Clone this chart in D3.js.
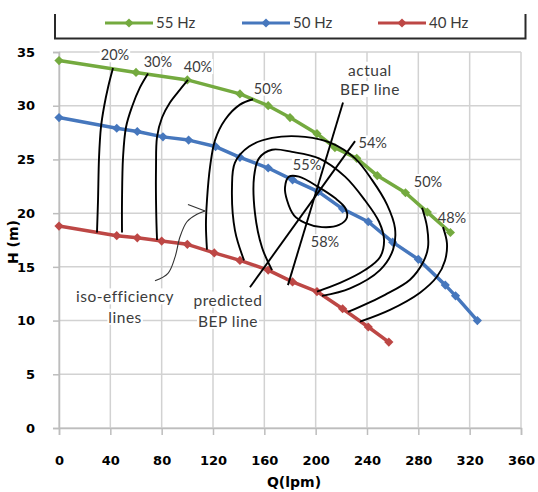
<!DOCTYPE html>
<html>
<head>
<meta charset="utf-8">
<script src="https://cdn.jsdelivr.net/npm/d3@7"></script>
<style>
  body { margin: 0; background: #fff; }
  svg { display: block; font-family: Lato, "Open Sans", sans-serif; }
</style>
</head>
<body>
<svg id="chart" width="538" height="492"></svg>
<script>
// axis ticks
var flowTicks = [0, 40, 80, 120, 160, 200, 240, 280, 320, 360]
var headTicks = [0, 5, 10, 15, 20, 25, 30, 35]

// pump curves, Q (lpm) / H (m)
var q55 = [0, 60, 100, 141, 163, 180, 201, 215, 232, 248, 270, 287, 305]
var h55 = [34.2, 33.1, 32.4, 31.1, 30.0, 28.9, 27.4, 26.1, 25.1, 23.5, 21.9, 20.1, 18.2]
var q50 = [0, 45, 61, 81, 101, 122, 141, 163, 182, 202, 221, 241, 260, 280, 301, 309, 326]
var h50 = [28.9, 27.9, 27.6, 27.1, 26.8, 26.2, 25.2, 24.2, 23.1, 22.0, 20.4, 19.2, 17.3, 15.7, 13.3, 12.3, 10.0]
var q40 = [0, 45, 61, 80, 100, 121, 141, 163, 182, 201, 221, 241, 257]
var h40 = [18.8, 17.9, 17.7, 17.4, 17.1, 16.3, 15.6, 14.7, 13.6, 12.7, 11.1, 9.4, 8.0]

// iso-efficiency lines [Q, H]
var iso20 = [[42.1,33.5],[38.2,31.7],[35.1,29.9],[32.7,28.0],[31.2,25.2],[30.4,21.2],[29.6,18.2]]
var iso30 = [[69.4,33.0],[63.1,31.7],[56.9,29.9],[52.2,28.0],[49.9,25.2],[49.1,21.2],[49.1,18.2]]
var iso40 = [[100.5,32.4],[94.3,31.5],[86.5,30.3],[80.3,28.9],[76.4,27.1],[75.6,24.3],[75.6,21.2],[76.4,17.5]]
var iso50a = [[151.2,30.6],[141.0,30.1],[129.4,28.7],[121.6,26.8],[117.7,24.3],[115.3,21.2],[114.5,18.9],[115.3,16.6]]
var iso54 = [[144.2,15.6],[137.1,18.4],[134.8,22.4],[137.1,24.7],[148.1,26.2],[166.0,27.0],[191.7,27.1],[212.7,26.5],
             [230.7,25.1],[243.9,23.1],[255.6,20.8],[261.8,18.6],[260.3,16.6],[250.1,14.7],[226.8,13.0],[204.9,12.3]]
var iso55 = [[166.0,14.7],[158.2,16.8],[152.7,20.0],[152.0,23.4],[155.8,25.1],[166.0,25.9],[181.6,25.7],[202.6,25.1],
             [222.9,23.4],[238.4,21.2],[249.4,19.2],[253.3,17.5],[250.1,15.9],[238.4,14.7],[219.0,13.5],[201.0,12.7]]
var iso58 = [[176.1,22.4],[179.2,23.4],[187.0,23.4],[202.6,22.4],[215.1,21.4],[222.9,20.5],[224.4,19.6],
             [218.2,18.9],[204.9,18.7],[191.7,19.1],[183.1,19.8],[177.7,21.2]]
var iso50b = [[282.9,20.5],[286.8,18.7],[287.5,16.8],[283.6,15.4],[273.5,13.8],[254.0,12.4],[225.2,10.8]]
var iso48 = [[299.2,18.7],[302.3,17.2],[300.8,15.6],[294.6,14.1],[281.3,12.6],[257.9,11.0],[234.5,9.9]]

// BEP lines
var actualBep = [[221.3,30.3],[178.4,13.3]]
var predictedBep = [[230.7,26.7],[148.8,13.1]]

// arrow pointing from the iso-efficiency label
var arrowCurve = [[74.8,13.7],[84.9,14.4],[90.4,15.9],[94.3,17.8],[99.7,19.2],[107.5,19.9],[113.8,20.2]]
var arrowBarb = [[100.5,20.8],[113.8,20.2]]

// annotations [text, Q, H]
var pctNotes = [
  ['20%', 43.6, 34.7], ['30%', 77.1, 34.1], ['40%', 108.3, 33.6], ['50%', 162.9, 31.6],
  ['54%', 244.5, 26.5], ['55%', 193.3, 24.5], ['58%', 207.3, 17.3],
  ['50%', 287.5, 22.9], ['48%', 306.2, 19.6]
]
var textNotes = [
  ['actual', 242.3, 33.3], ['BEP line', 242.3, 31.5],
  ['iso-efficiency', 51.5, 12.2], ['lines', 51.5, 10.3],
  ['predicted', 131.7, 11.9], ['BEP line', 131.7, 9.9]
]

var series = [
  {name: '55 Hz', color: '#74aa3f', q: q55, h: h55},
  {name: '50 Hz', color: '#4677bd', q: q50, h: h50},
  {name: '40 Hz', color: '#bd4745', q: q40, h: h40}
]

var svg = d3.select('#chart')
var x = d3.scaleLinear().domain([0, 360]).range([59, 521])
var y = d3.scaleLinear().domain([0, 35]).range([428, 52])
var gridColor = '#d2d2d2'

// grid
var grid = svg.append('g')
grid.selectAll('.vg').data(flowTicks).enter().append('line')
  .attr('x1', function(d){ return x(d) }).attr('x2', function(d){ return x(d) })
  .attr('y1', y(35)).attr('y2', y(0))
  .attr('stroke', gridColor).attr('stroke-width', 1.5)
grid.selectAll('.hg').data(headTicks).enter().append('line')
  .attr('x1', x(0)).attr('x2', x(360))
  .attr('y1', function(d){ return y(d) }).attr('y2', function(d){ return y(d) })
  .attr('stroke', gridColor).attr('stroke-width', 1.5)

// axes
svg.append('g').attr('transform', 'translate(0,' + y(0) + ')')
  .call(d3.axisBottom(x).tickValues(flowTicks).tickSize(7).tickPadding(21))
svg.append('g').attr('transform', 'translate(' + x(0) + ',0)')
  .call(d3.axisLeft(y).tickValues(headTicks).tickSize(6).tickPadding(18))
svg.selectAll('.domain').attr('stroke', '#bdbdbd').attr('stroke-width', 1.5)
svg.selectAll('.tick line').attr('stroke', '#bdbdbd').attr('stroke-width', 1.5)
svg.selectAll('.tick text')
  .attr('fill', '#000')
  .style('font-family', '"DejaVu Sans", sans-serif')
  .style('font-weight', 'bold')
  .style('font-size', '13px')

// axis titles
svg.append('text').text('Q(lpm)')
  .attr('x', 294).attr('y', 487).attr('text-anchor', 'middle')
  .style('font-family', '"DejaVu Sans", sans-serif').style('font-weight', 'bold').style('font-size', '14px')
svg.append('text').text('H (m)')
  .attr('transform', 'translate(18,242) rotate(-90)').attr('text-anchor', 'middle')
  .style('font-family', '"DejaVu Sans", sans-serif').style('font-weight', 'bold').style('font-size', '14px')

// legend box (top edge is cut off in the original)
svg.append('path')
  .attr('d', 'M55,14V38.5H525.5V14')
  .attr('fill', 'none').attr('stroke', '#2a2a2a').attr('stroke-width', 2)

var diamond = 'M0,-4.6L4.6,0L0,4.6L-4.6,0Z'
var legendX = [105, 242, 378]
series.forEach(function(s, i){
  var lg = svg.append('g').attr('transform', 'translate(' + legendX[i] + ',23)')
  lg.append('line').attr('x1', 0).attr('x2', 48).attr('stroke', s.color).attr('stroke-width', 3)
  lg.append('path').attr('d', diamond).attr('transform', 'translate(24,0)').attr('fill', s.color)
  lg.append('text').text(s.name).attr('x', 51).attr('y', 5)
    .attr('fill', '#3a3a3a').style('font-size', '15px')
})

// label backgrounds sit between grid and curves
var bgLayer = svg.append('g')

// pump curves
var line = d3.line().x(function(d){ return x(d[0]) }).y(function(d){ return y(d[1]) })
series.forEach(function(s){
  var pts = s.q.map(function(q, i){ return [q, s.h[i]] })
  svg.append('path').datum(pts)
    .attr('d', line).attr('fill', 'none')
    .attr('stroke', s.color).attr('stroke-width', 3.5).attr('stroke-linejoin', 'round')
  svg.append('g').selectAll('path').data(pts).enter().append('path')
    .attr('d', diamond)
    .attr('transform', function(d){ return 'translate(' + x(d[0]) + ',' + y(d[1]) + ')' })
    .attr('fill', s.color)
})

// iso-efficiency curves
var smooth = d3.line().curve(d3.curveCatmullRom.alpha(0.5))
  .x(function(d){ return x(d[0]) }).y(function(d){ return y(d[1]) })
var closedSmooth = d3.line().curve(d3.curveCatmullRomClosed.alpha(0.5))
  .x(function(d){ return x(d[0]) }).y(function(d){ return y(d[1]) })

var isoLines = [iso20, iso30, iso40, iso50a, iso54, iso55, iso50b, iso48]
svg.append('g').selectAll('path').data(isoLines).enter().append('path')
  .attr('d', smooth).attr('fill', 'none').attr('stroke', '#000').attr('stroke-width', 1.9)
svg.append('path').datum(iso58)
  .attr('d', closedSmooth).attr('fill', 'none').attr('stroke', '#000').attr('stroke-width', 1.9)

svg.append('g').selectAll('path').data([actualBep, predictedBep]).enter().append('path')
  .attr('d', line).attr('fill', 'none').attr('stroke', '#000').attr('stroke-width', 1.9)

svg.append('path').datum(arrowCurve)
  .attr('d', smooth).attr('fill', 'none').attr('stroke', '#333').attr('stroke-width', 1.1)
svg.append('path').datum(arrowBarb)
  .attr('d', line).attr('fill', 'none').attr('stroke', '#333').attr('stroke-width', 1.1)

// annotation texts with white boxes behind them
function addNotes(data, size, spacing){
  var t = svg.append('g').selectAll('text').data(data).enter().append('text')
    .text(function(d){ return d[0] })
    .attr('x', function(d){ return x(d[1]) })
    .attr('y', function(d){ return y(d[2]) })
    .attr('dy', '0.35em')
    .attr('text-anchor', 'middle')
    .attr('fill', '#3c3c3c')
    .style('font-size', size)
    .style('letter-spacing', spacing)
  t.each(function(){
    var b = this.getBBox()
    bgLayer.append('rect')
      .attr('x', b.x - 1).attr('y', b.y + 1)
      .attr('width', b.width + 2).attr('height', b.height - 2)
      .attr('fill', '#fff')
  })
}
addNotes(pctNotes, '14.5px', '0px')
addNotes(textNotes, '15.5px', '0.5px')
</script>
</body>
</html>
